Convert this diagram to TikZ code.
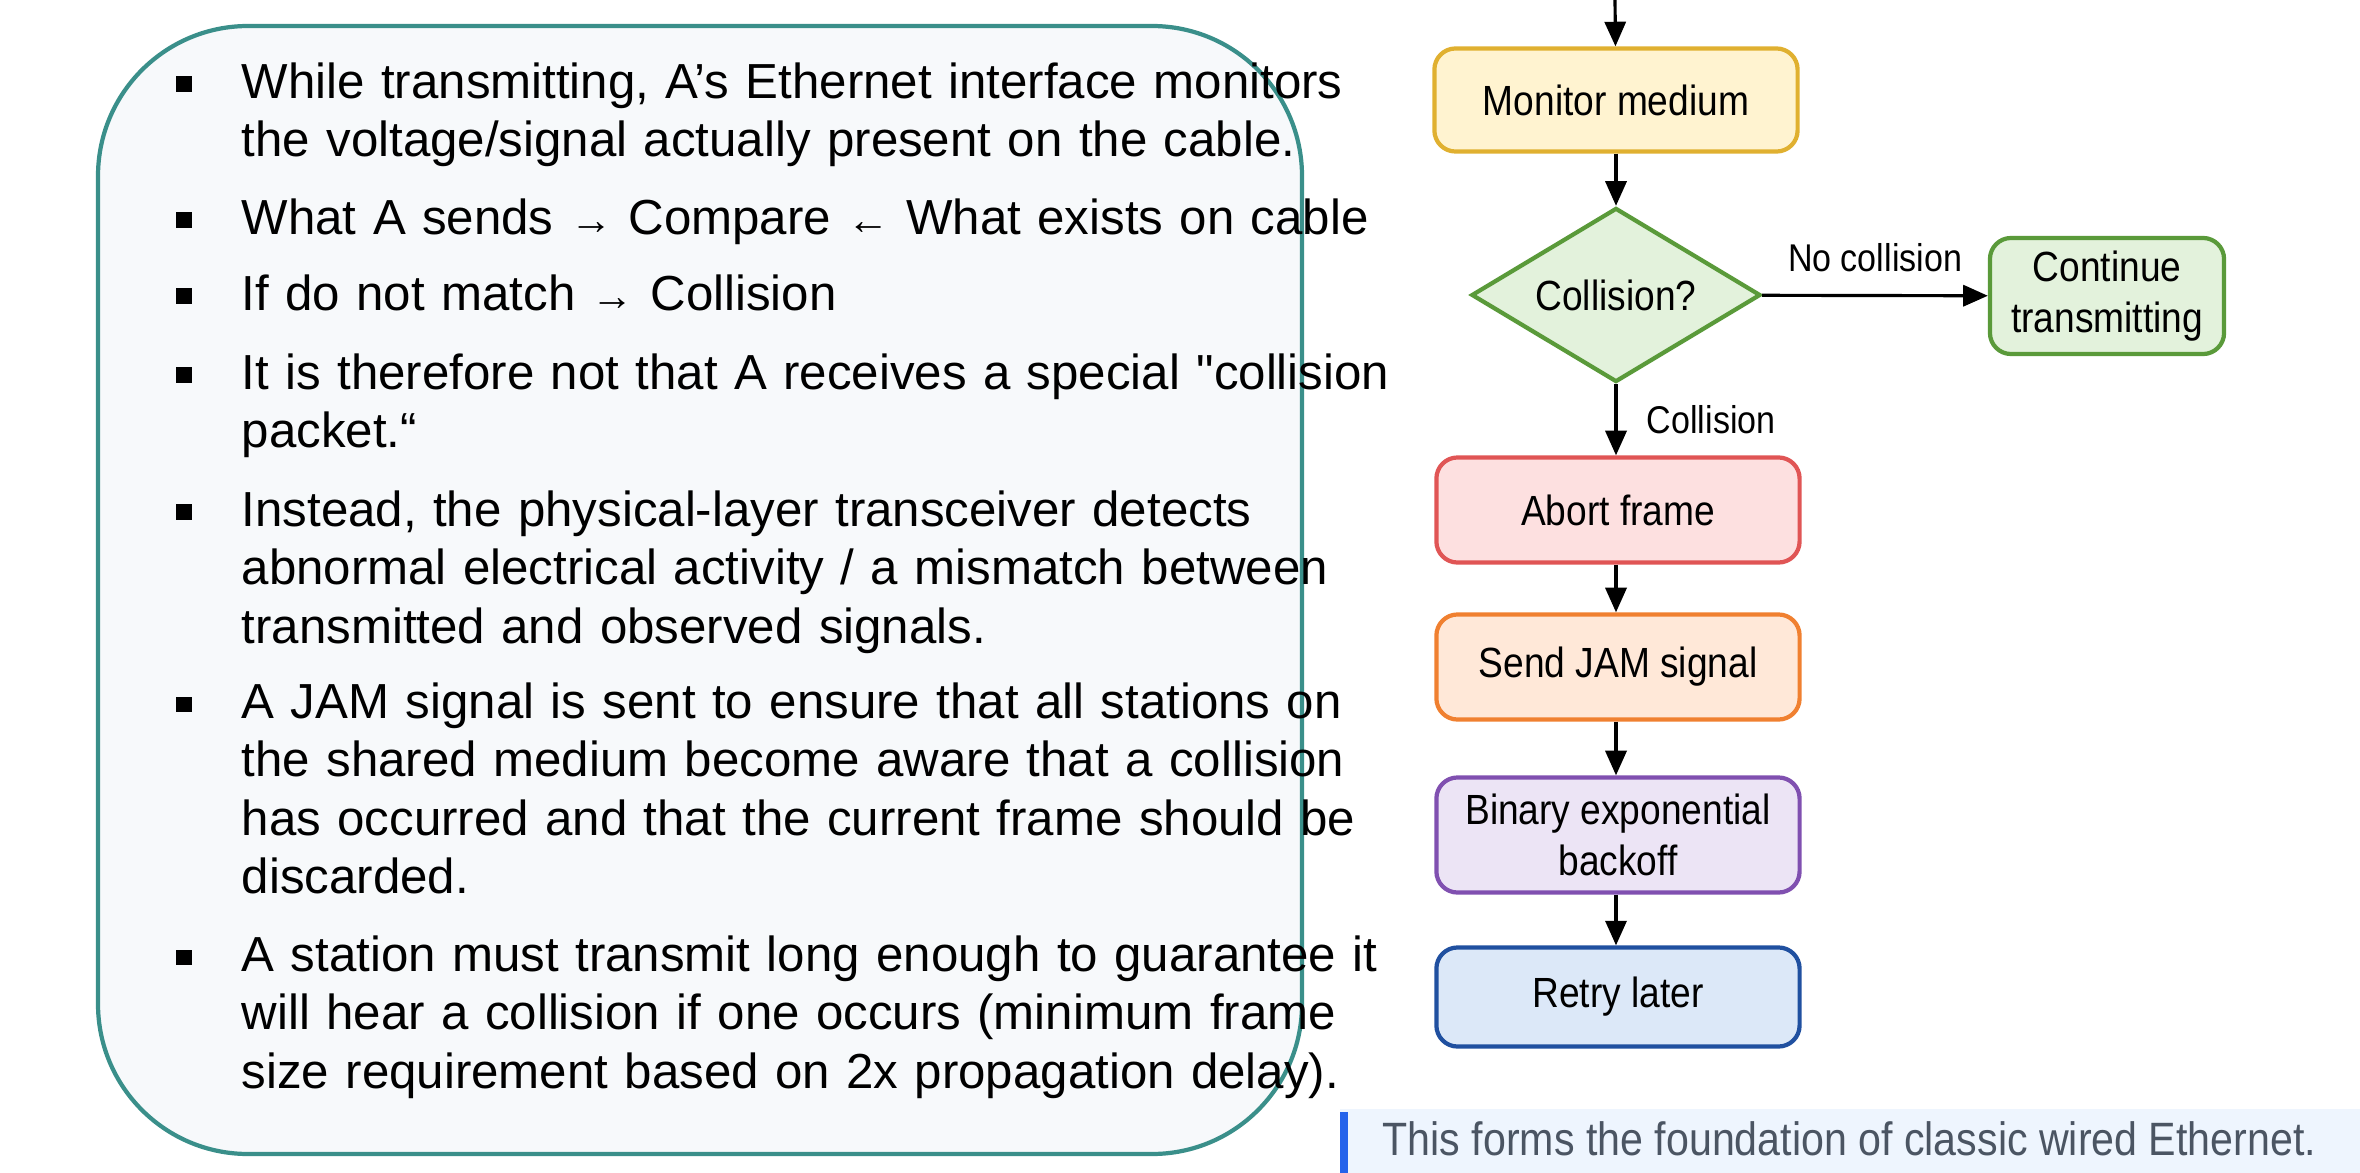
\documentclass[tikz,border=0pt]{standalone}
\usepackage{fontspec}
\setmainfont{Liberation Sans}
\newfontfamily\boxfont[FakeStretch=0.88]{Liberation Sans}
\usetikzlibrary{arrows.meta,shapes.geometric,positioning}
\definecolor{panelfill}{HTML}{F7F9FB}
\definecolor{panelline}{HTML}{3A8F8A}
\definecolor{monfill}{HTML}{FFF3D0}
\definecolor{monline}{HTML}{E0B030}
\definecolor{grnfill}{HTML}{E3F2DC}
\definecolor{grnline}{HTML}{5A9A3A}
\definecolor{redfill}{HTML}{FDE0E0}
\definecolor{redline}{HTML}{E05555}
\definecolor{orafill}{HTML}{FFE8D8}
\definecolor{oraline}{HTML}{F08030}
\definecolor{purfill}{HTML}{ECE4F5}
\definecolor{purline}{HTML}{8050B0}
\definecolor{blufill}{HTML}{DCE8F8}
\definecolor{bluline}{HTML}{2050A0}
\definecolor{notefill}{HTML}{EEF5FE}
\definecolor{notebar}{HTML}{2563EB}
\definecolor{notetext}{HTML}{4B5563}
\tikzset{%
    item/.style={anchor=north west, inner sep=0pt, text width=12cm, align=left,
        font=\fontsize{14}{16.6}\selectfont},
    bul/.style={fill=black, minimum size=0.15cm, inner sep=0pt},
    stepbox/.style={draw=#1line, fill=#1fill, line width=1.2pt, rounded corners=6pt,
        minimum width=3.63cm, align=center, font=\boxfont\fontsize{12}{14.5}\selectfont},
    flow/.style={-{Triangle[length=7pt, width=6pt]}, line width=0.9pt},
    lbl/.style={font=\boxfont\fontsize{11}{13}\selectfont}
}
\begin{document}
\begin{tikzpicture}[x=0.01cm, y=-0.01cm]
    \useasboundingbox (0, 0) rectangle (2360, 1173);

    % Text panel
    \draw[panelline, fill=panelfill, line width=1.2pt, rounded corners=1.5cm]
        (98, 26) rectangle (1302, 1154);

    \foreach \yy/\txt in {%
        84/{While transmitting, A's Ethernet interface monitors\\the voltage/signal actually present on the cable.},
        220/{What A sends {\large\bfseries→} Compare {\large\bfseries←} What exists on cable},
        296/{If do not match {\large\bfseries→} Collision},
        375/{It is therefore not that A receives a special \textquotedbl collision\\packet.“},
        512/{Instead, the physical-layer transceiver detects\\abnormal electrical activity / a mismatch between\\transmitted and observed signals.},
        704/{A JAM signal is sent to ensure that all stations on\\the shared medium become aware that a collision\\has occurred and that the current frame should be\\discarded.},
        957/{A station must transmit long enough to guarantee it\\will hear a collision if one occurs (minimum frame\\size requirement based on 2x propagation delay).}}{%
        \node[bul] at (184, \yy) {};
        \node[item] at (241, \yy-22) {\txt};
    };

    % Flowchart
    \coordinate (top) at (1615, 0);
    \node[stepbox=mon, minimum height=1.03cm] (monitor) at (1616, 100) {Monitor medium};
    \node[diamond, aspect=1.66, draw=grnline, fill=grnfill, line width=1.2pt,
        minimum width=2.89cm, minimum height=1.74cm, inner sep=0pt,
        font=\boxfont\fontsize{12}{14.5}\selectfont] (check) at (1616, 295) {Collision?};
    \node[stepbox=grn, minimum width=2.34cm, minimum height=1.16cm] (cont) at (2107, 296)
        {Continue\\transmitting};
    \node[stepbox=red, minimum height=1.05cm] (abort) at (1618, 510) {Abort frame};
    \node[stepbox=ora, minimum height=1.05cm] (jam) at (1618, 667) {Send JAM signal};
    \node[stepbox=pur, minimum height=1.15cm] (backoff) at (1618, 835)
        {Binary exponential\\backoff};
    \node[stepbox=blu, minimum height=0.99cm] (retry) at (1618, 997) {Retry later};

    \draw[flow] (top) -- (monitor);
    \draw[flow] (monitor) -- (check);
    \draw[flow] (check) -- (cont) node[lbl, midway, above=3pt] {No collision};
    \draw[flow] (check) -- (check |- abort.north) node[lbl, midway, right=5pt] {Collision};
    \draw[flow] (abort.south -| check) -- (check |- jam.north);
    \draw[flow] (jam.south -| check) -- (check |- backoff.north);
    \draw[flow] (backoff.south -| check) -- (check |- retry.north);

    % Note bar
    \fill[notefill] (1340, 1109) rectangle (2360, 1173);
    \fill[notebar] (1340, 1112) rectangle (1348, 1173);
    \node[anchor=west, inner sep=0pt, text=notetext,
        font=\boxfont\fontsize{13.3}{16}\selectfont] (note) at (1382, 1139)
        {This forms the foundation of classic wired Ethernet.};
\end{tikzpicture}
\end{document}
